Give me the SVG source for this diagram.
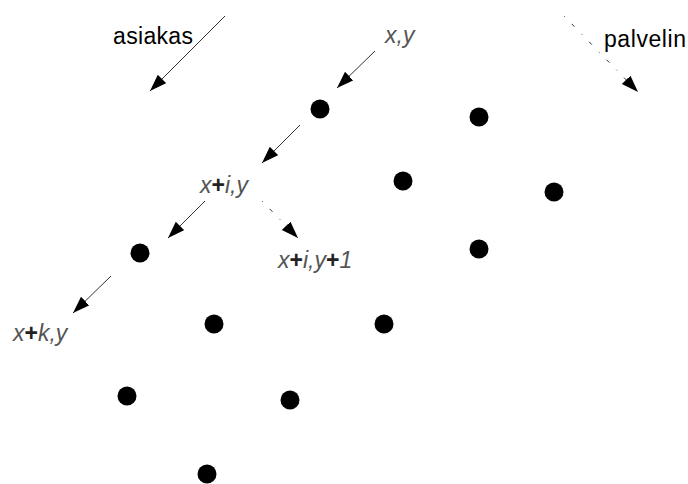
<svg xmlns="http://www.w3.org/2000/svg" width="688" height="484" viewBox="0 0 688 484">
<style>
.l{stroke:#333;stroke-width:1;fill:none;marker-end:url(#ah)}
.d{stroke-dasharray:1 10 4 10}
.dot{fill:#000}
.t{font-family:"Liberation Sans",Arial,sans-serif;font-size:23px;fill:#000}
.v{font-family:"Liberation Sans",Arial,sans-serif;font-size:23px;fill:#555;font-style:italic}
.p{font-style:normal;font-weight:bold;fill:#222}
</style>
<defs>
<marker id="ah" markerUnits="userSpaceOnUse" markerWidth="20" markerHeight="14" refX="17" refY="6" orient="auto">
<path d="M0,0 L17,6 L0,12 Z" fill="#000"/>
</marker>
</defs>
<rect width="688" height="484" fill="#fff"/>
<g id="connectors">
<line class="l" x1="225" y1="16" x2="150" y2="91"/>
<line class="l" x1="375" y1="51" x2="337" y2="88"/>
<line class="l d" x1="564" y1="16" x2="638" y2="92"/>
<line class="l" x1="300" y1="125" x2="262" y2="163"/>
<line class="l" x1="205" y1="201" x2="168" y2="238"/>
<line class="l d" x1="262" y1="201" x2="298" y2="238"/>
<line class="l" x1="111" y1="276" x2="73" y2="313"/>
</g>
<g id="label-asiakas"><text class="t" x="113" y="44" textLength="80" lengthAdjust="spacing">asiakas</text></g>
<g id="label-palvelin"><text class="t" x="604" y="47" textLength="82" lengthAdjust="spacing">palvelin</text></g>
<g id="label-xy"><text class="v" x="385" y="43">x,y</text></g>
<g id="label-xiy"><text class="v" x="200" y="193">x<tspan class="p">+</tspan>i,y</text></g>
<g id="label-xiy1"><text class="v" x="278" y="268">x<tspan class="p">+</tspan>i,y<tspan class="p">+</tspan>1</text></g>
<g id="label-xky"><text class="v" x="13" y="341">x<tspan class="p">+</tspan>k,y</text></g>
<g id="dots">
<circle id="n1" class="dot" cx="320" cy="109" r="9.5"/>
<circle id="n2" class="dot" cx="479" cy="117" r="9.5"/>
<circle id="n3" class="dot" cx="403" cy="181" r="9.5"/>
<circle id="n4" class="dot" cx="554" cy="192" r="9.5"/>
<circle id="n5" class="dot" cx="479" cy="249" r="9.5"/>
<circle id="n6" class="dot" cx="140" cy="253" r="9.5"/>
<circle id="n7" class="dot" cx="214" cy="324" r="9.5"/>
<circle id="n8" class="dot" cx="384" cy="324" r="9.5"/>
<circle id="n9" class="dot" cx="127" cy="396" r="9.5"/>
<circle id="n10" class="dot" cx="290" cy="400" r="9.5"/>
<circle id="n11" class="dot" cx="207" cy="474" r="9.5"/>
</g>
</svg>
